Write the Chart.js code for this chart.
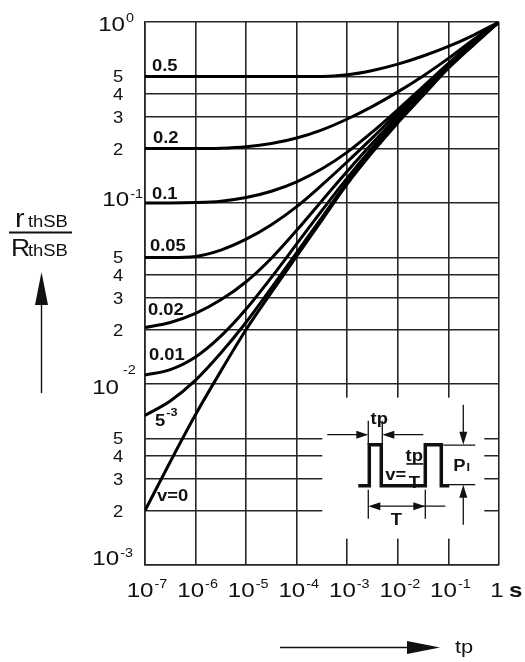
<!DOCTYPE html>
<html>
<head>
<meta charset="utf-8">
<script src="https://cdn.jsdelivr.net/npm/chart.js@4.4.1/dist/chart.umd.min.js"></script>
<style>
  html, body { margin: 0; padding: 0; background: #fff; }
  canvas { display: block; }
</style>
</head>
<body>
<canvas id="zth" width="525" height="662"></canvas>
<script>
// pulse width tp [s], half-decade steps
const tp = [1e-7, 3.16e-7, 1e-6, 3.16e-6, 1e-5, 3.16e-5, 1e-4, 3.16e-4, 1e-3, 3.16e-3, 1e-2, 3.16e-2, 0.1, 0.316, 1];

// normalised transient thermal resistance rthSB / RthSB per duty cycle v
const v0_5   = [0.5, 0.5, 0.5, 0.5, 0.5, 0.5, 0.5, 0.5, 0.5105, 0.5395, 0.5848, 0.6486, 0.7328, 0.8472, 1];
const v0_2   = [0.2, 0.2, 0.2, 0.2009, 0.2047, 0.2133, 0.2286, 0.2535, 0.2911, 0.342, 0.4111, 0.5035, 0.6295, 0.7998, 1];
const v0_1   = [0.1, 0.1, 0.1005, 0.1023, 0.1072, 0.1161, 0.1309, 0.1545, 0.191, 0.2474, 0.3281, 0.4399, 0.5916, 0.7798, 1];
const v0_05  = [0.05, 0.05, 0.0507, 0.05495, 0.0631, 0.07586, 0.0955, 0.1259, 0.169, 0.2296, 0.3148, 0.4276, 0.5768, 0.7727, 1];
const v0_02  = [0.0205, 0.02188, 0.02455, 0.02917, 0.03673, 0.04955, 0.07063, 0.103, 0.1496, 0.2143, 0.3013, 0.4178, 0.5715, 0.767, 1];
const v0_01  = [0.0112, 0.012, 0.0141, 0.01837, 0.02594, 0.03882, 0.05943, 0.09099, 0.1377, 0.2028, 0.2917, 0.4121, 0.5689, 0.7638, 1];
const v0_005 = [0.0067, 0.00805, 0.0105, 0.01483, 0.02193, 0.03396, 0.0532, 0.0834, 0.1306, 0.1954, 0.2858, 0.4055, 0.5598, 0.7551, 1];
const v0     = [0.002, 0.00372, 0.00678, 0.01178, 0.02, 0.0321, 0.0508, 0.0805, 0.1276, 0.191, 0.278, 0.393, 0.555, 0.748, 1];

const curves = [v0_5, v0_2, v0_1, v0_05, v0_02, v0_01, v0_005, v0];
const curveNames = ['0.5', '0.2', '0.1', '0.05', '0.02', '0.01', '5', 'v=0'];

const xTicks = [1e-7, 1e-6, 1e-5, 1e-4, 1e-3, 1e-2, 1e-1, 1];
const yTicks = [0.001, 0.002, 0.003, 0.004, 0.005, 0.01, 0.02, 0.03, 0.04, 0.05,
                0.1, 0.2, 0.3, 0.4, 0.5, 1];

const FONT = '"Liberation Sans", Arial, sans-serif';
const SX = 1.15; // lettering on this sheet runs a bit wide

function textW(ctx, s, size, bold) {
  ctx.font = (bold ? 'bold ' : '') + size + 'px ' + FONT;
  return ctx.measureText(s).width * SX;
}

function txt(ctx, s, x, y, size, bold, align) {
  const w = textW(ctx, s, size, bold);
  let x0 = x;
  if (align === 'center') x0 = x - w / 2;
  else if (align === 'right') x0 = x - w;
  ctx.save();
  ctx.translate(x0, y);
  ctx.scale(SX, 1);
  ctx.textAlign = 'left';
  ctx.textBaseline = 'alphabetic';
  ctx.fillText(s, 0, 0);
  ctx.restore();
  return w;
}

// "10" with a raised exponent
function pow10(ctx, exp, x, y, align, rise) {
  const wb = textW(ctx, '10', 21, false);
  const we = textW(ctx, exp, 12.5, false);
  const total = wb + 1 + we;
  let x0 = x;
  if (align === 'center') x0 = x - total / 2;
  else if (align === 'right') x0 = x - total;
  txt(ctx, '10', x0, y, 21, false);
  txt(ctx, exp, x0 + wb + 1, y - rise, 12.5, false);
}

// where the decade labels on the y axis sit: right edge, baseline shift, exponent rise
const yDecadeLabel = {
  '0':  { right: 134, dy: 9,  rise: 9 },
  '-1': { right: 143, dy: 3,  rise: 8 },
  '-2': { right: 140, dy: 10, rise: 20 },
  '-3': { right: 133, dy: 0,  rise: 8 }
};

function arrowHead(ctx, tx, ty, dx, dy, len, half) {
  const px = -dy, py = dx;
  ctx.beginPath();
  ctx.moveTo(tx, ty);
  ctx.lineTo(tx - dx * len + px * half, ty - dy * len + py * half);
  ctx.lineTo(tx - dx * len - px * half, ty - dy * len - py * half);
  ctx.closePath();
  ctx.fill();
}

function line(ctx, x1, y1, x2, y2) {
  ctx.beginPath();
  ctx.moveTo(x1, y1);
  ctx.lineTo(x2, y2);
  ctx.stroke();
}

// white area for the pulse sketch, drawn over the grid
const insetMask = {
  id: 'insetMask',
  beforeDatasetsDraw(chart) {
    const { ctx, scales: { x, y } } = chart;
    const bx = x.getPixelForValue(1e-3);
    const by = y.getPixelForValue(0.003);
    ctx.save();
    ctx.fillStyle = '#fff';
    ctx.fillRect(bx - 25, by - 81, 162, 141);
    ctx.restore();
  }
};

const sheetText = {
  id: 'sheetText',
  afterDraw(chart) {
    const { ctx, chartArea: area, scales: { x, y } } = chart;
    ctx.save();
    ctx.fillStyle = '#111';
    ctx.strokeStyle = '#111';

    // x tick labels
    xTicks.forEach(v => {
      const px = x.getPixelForValue(v);
      const e = Math.round(Math.log10(v));
      if (e === 0) {
        txt(ctx, '1', px - 2, area.bottom + 32, 21, false, 'center');
        txt(ctx, 's', px + 10, area.bottom + 32, 21, true);
      } else {
        pow10(ctx, String(e), px + 2, area.bottom + 32, 'center', 9);
      }
    });

    // y tick labels
    yTicks.forEach(v => {
      const py = y.getPixelForValue(v);
      const e = Math.floor(Math.log10(v) + 1e-9);
      const m = Math.round(v / Math.pow(10, e));
      if (m === 1) {
        const lay = yDecadeLabel[String(e)];
        if (e === -2) {
          // exponent set well above and clear of the "10"
          txt(ctx, '10', 119, py + lay.dy, 21, false, 'right');
          txt(ctx, '-2', 123, py + lay.dy - lay.rise, 12.5, false);
        } else {
          pow10(ctx, String(e), lay.right, py + lay.dy, 'right', lay.rise);
        }
      } else {
        txt(ctx, String(m), area.left - 27, py + 6, 16, false, 'center');
      }
    });

    // duty cycle labels next to the curves
    const dy = [-5, -6, -4, -6, -13, -15, 11, -10];
    const dx = [7, 8, 7, 5, 3, 4, 10, 12];
    curveNames.forEach((name, i) => {
      const px = x.getPixelForValue(tp[0]) + dx[i];
      const py = y.getPixelForValue(curves[i][0]) + dy[i];
      const w = txt(ctx, name, px, py, 16, true);
      if (name === '5') txt(ctx, '-3', px + w + 1, py - 10, 11, true);
    });

    // y axis title rthSB / RthSB
    txt(ctx, 'r', 15, 227, 25, false);
    txt(ctx, 'thSB', 28, 227, 16, false);
    ctx.fillRect(9, 231.5, 63, 2);
    txt(ctx, 'R', 11, 256, 23, false);
    txt(ctx, 'thSB', 28, 256, 16, false);
    ctx.lineWidth = 1.4;
    line(ctx, 41.5, 393, 41.5, 300);
    arrowHead(ctx, 41.5, 272, 0, -1, 33, 6.5);

    // x axis title tp
    line(ctx, 280, 647.5, 415, 647.5);
    arrowHead(ctx, 440, 647.5, 1, 0, 33, 6.5);
    txt(ctx, 'tp', 455, 653, 19, false);

    // pulse sketch
    const bx = x.getPixelForValue(1e-3);
    const by = y.getPixelForValue(0.003);
    ctx.lineWidth = 1.3;
    line(ctx, bx - 20, by - 44, bx + 12, by - 44);
    arrowHead(ctx, bx + 21, by - 44, 1, 0, 12, 4);
    line(ctx, bx + 76, by - 44, bx + 44, by - 44);
    arrowHead(ctx, bx + 35, by - 44, -1, 0, 12, 4);
    line(ctx, bx + 21, by - 58, bx + 21, by - 34);
    line(ctx, bx + 35, by - 58, bx + 35, by - 34);
    txt(ctx, 'tp', bx + 32, by - 55, 16, true, 'center');

    ctx.lineWidth = 3.5;
    ctx.lineJoin = 'miter';
    ctx.beginPath();
    ctx.moveTo(bx + 11, by + 7);
    ctx.lineTo(bx + 22, by + 7);
    ctx.lineTo(bx + 22, by - 34);
    ctx.lineTo(bx + 34, by - 34);
    ctx.lineTo(bx + 34, by + 7);
    ctx.lineTo(bx + 78, by + 7);
    ctx.lineTo(bx + 78, by - 34);
    ctx.lineTo(bx + 94, by - 34);
    ctx.lineTo(bx + 94, by + 7);
    ctx.lineTo(bx + 102, by + 7);
    ctx.stroke();

    txt(ctx, 'v=', bx + 38, by + 1, 16, true);
    txt(ctx, 'tp', bx + 67, by - 18, 16, true, 'center');
    ctx.fillRect(bx + 59, by - 15.5, 17, 1.6);
    txt(ctx, 'T', bx + 67, by + 9, 16, true, 'center');

    ctx.lineWidth = 1.3;
    line(ctx, bx + 30, by + 27.5, bx + 98, by + 27.5);
    arrowHead(ctx, bx + 21, by + 27.5, -1, 0, 12, 4);
    arrowHead(ctx, bx + 78, by + 27.5, 1, 0, 12, 4);
    line(ctx, bx + 21, by + 11, bx + 21, by + 40);
    line(ctx, bx + 78, by + 11, bx + 78, by + 40);
    txt(ctx, 'T', bx + 49, by + 46, 16, true, 'center');

    line(ctx, bx + 116, by - 74, bx + 116, by - 45);
    arrowHead(ctx, bx + 116, by - 34, 0, 1, 13, 4);
    line(ctx, bx + 96, by - 33.5, bx + 128, by - 33.5);
    line(ctx, bx + 101, by + 6, bx + 128, by + 6);
    line(ctx, bx + 116, by + 46, bx + 116, by + 17);
    arrowHead(ctx, bx + 116, by + 6, 0, -1, 13, 4);
    const wp = txt(ctx, 'P', bx + 106, by - 8, 16, true);
    txt(ctx, 'I', bx + 106 + wp + 1, by - 8, 11, true);

    ctx.restore();
  }
};

const gridStyle = { color: '#262626', lineWidth: 1.6, drawTicks: false };
const borderStyle = { color: '#262626', width: 1.6 };

new Chart(document.getElementById('zth'), {
  type: 'line',
  data: {
    datasets: curves.map((vals, i) => ({
      label: curveNames[i],
      data: tp.map((t, k) => ({ x: t, y: vals[k] })),
      borderColor: '#000',
      borderWidth: 3,
      pointRadius: 0,
      cubicInterpolationMode: 'monotone',
      fill: false
    }))
  },
  options: {
    responsive: false,
    animation: false,
    layout: { padding: { left: 145, top: 22, right: 26, bottom: 97 } },
    plugins: { legend: { display: false }, tooltip: { enabled: false } },
    scales: {
      x: {
        type: 'logarithmic',
        min: 1e-7,
        max: 1,
        afterBuildTicks: s => { s.ticks = xTicks.map(v => ({ value: v })); },
        ticks: { display: false },
        grid: gridStyle,
        border: borderStyle
      },
      y: {
        type: 'logarithmic',
        min: 0.001,
        max: 1,
        afterBuildTicks: s => { s.ticks = yTicks.map(v => ({ value: v })); },
        ticks: { display: false },
        grid: gridStyle,
        border: borderStyle
      }
    }
  },
  plugins: [insetMask, sheetText]
});
</script>
</body>
</html>
